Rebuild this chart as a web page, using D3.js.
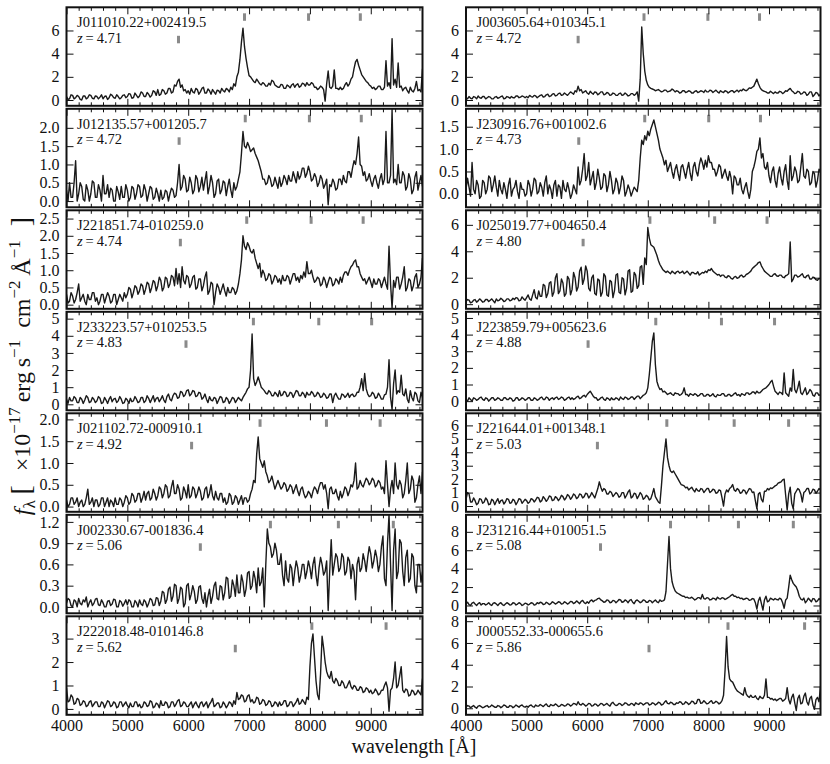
<!DOCTYPE html>
<html>
<head>
<meta charset="utf-8">
<script src="https://cdn.jsdelivr.net/npm/d3@7"></script>
<style>
body { margin: 0; background: #fff; }
text { font-family: "Liberation Serif", "Times New Roman", serif; fill: #111; }
</style>
</head>
<body>
<div id="chart"></div>
<script>

// quasar names / redshifts, left column top->bottom then right column
var names = ["J011010.22+002419.5", "J012135.57+001205.7", "J221851.74-010259.0", "J233223.57+010253.5",
             "J021102.72-000910.1", "J002330.67-001836.4", "J222018.48-010146.8",
             "J003605.64+010345.1", "J230916.76+001002.6", "J025019.77+004650.4", "J223859.79+005623.6",
             "J221644.01+001348.1", "J231216.44+010051.5", "J000552.33-000655.6"];
var redshifts = [4.71, 4.72, 4.74, 4.83, 4.92, 5.06, 5.62, 4.72, 4.73, 4.80, 4.88, 5.03, 5.08, 5.86];

// y limits and y ticks of each panel
var yLow  = [-0.5, -0.17, -0.12, -0.35, -0.12, -0.09, -0.25, -0.5, -0.3, -0.35, -0.55, -0.43, -0.85, -0.6];
var yHigh = [8.0, 2.52, 2.74, 5.4, 2.14, 1.3, 3.95, 8.0, 1.9, 7.1, 5.37, 6.9, 9.85, 8.45];
var yTicks = [[0,2,4,6], [0,0.5,1,1.5,2], [0,0.5,1,1.5,2,2.5], [0,1,2,3,4,5], [0,0.5,1,1.5,2],
              [0,0.3,0.6,0.9,1.2], [0,1,2,3],
              [0,2,4,6], [0,0.5,1,1.5], [0,2,4,6], [0,1,2,3,4,5], [0,1,2,3,4,5,6], [0,2,4,6,8], [0,2,4,6,8]];
var yDecimals = [0,1,1,0,1,1,0, 0,1,0,0,0,0,0];

// x ticks
var xMajor = [4000, 5000, 6000, 7000, 8000, 9000];
var xMinor = [4200,4400,4600,4800,5200,5400,5600,5800,6200,6400,6600,6800,7200,7400,7600,7800,
              8200,8400,8600,8800,9200,9400,9600,9800];

// rest wavelengths of the marked lines (first one drawn lower)
var restLines = [1025.7, 1215.7, 1400.0, 1549.0];

// spectra, one value every 25 A starting at 4000 A (one row = 500 A)
var waveStart = 4000, waveStep = 25;

var fluxJ0110 = [
 0.3,0.05,0.1,0.45,0.4,0.1,0.2,0.4,0.3,0.05,0.0,0.35,0.35,0.1,0.2,0.45,0.4,0.15,0.1,0.35,
 0.3,0.1,0.25,0.45,0.1,0.3,0.35,0.05,0.2,0.5,0.4,0.2,0.15,0.45,0.3,0.1,0.2,0.4,0.45,0.2,
 0.3,0.55,0.5,0.15,0.2,0.6,0.4,0.2,0.35,0.7,0.6,0.3,0.3,0.65,0.5,0.25,0.4,0.8,0.7,0.4,
 0.9,0.4,0.5,0.9,0.8,0.5,0.6,1.0,1.0,0.6,0.7,1.3,1.2,1.6,1.8,1.1,1.3,0.8,0.9,0.6,
 0.8,0.5,1.0,0.7,0.6,1.0,0.9,0.5,0.7,1.0,1.1,0.6,0.6,0.95,0.8,0.5,0.9,0.7,0.5,0.85,
 0.8,0.6,1.0,0.8,0.7,1.0,0.9,0.7,1.1,0.9,1.4,1.2,2.0,2.4,3.5,5.0,6.2,4.6,3.6,2.8,
 2.1,2.0,1.8,1.6,1.5,1.8,1.6,1.4,1.3,1.5,1.4,1.2,1.2,1.45,1.3,1.7,1.6,1.3,1.2,1.1,
 1.1,1.35,1.3,1.0,1.0,1.3,1.2,1.05,1.3,1.4,1.1,1.3,1.4,1.1,1.2,1.45,1.4,1.2,1.5,1.3,
 1.3,1.5,1.4,1.1,1.1,0.9,1.0,1.2,1.1,0.9,-0.1,1.4,2.5,1.1,1.0,1.2,2.6,1.0,1.0,0.9,
 1.1,0.9,1.0,1.3,1.5,1.2,1.4,1.8,2.0,2.7,3.3,3.5,3.0,2.6,2.2,2.0,1.8,1.6,1.5,1.3,
 1.2,1.0,1.1,0.9,1.0,1.2,1.2,0.9,0.9,1.1,3.4,1.2,1.5,1.0,5.3,1.3,1.8,1.1,3.2,1.1,
 1.2,0.8,1.0,1.1,0.8,0.6,1.1,0.8,0.7,1.0,1.6,0.8,0.9,0.7,2.7];

var fluxJ0121 = [
 0.3,0.0,0.5,0.1,0.1,0.5,1.1,0.0,0.2,0.5,0.4,0.05,0.0,0.45,0.3,0.0,0.2,0.55,0.5,0.1,
 0.1,0.45,0.3,0.0,0.7,0.2,0.2,0.45,0.1,0.35,0.3,0.0,0.0,0.4,0.25,0.05,0.4,0.1,0.1,0.45,
 0.3,0.0,0.1,0.4,0.35,0.05,0.2,0.45,0.4,0.1,0.15,0.45,0.3,0.0,0.2,0.4,0.35,0.05,0.1,0.35,
 0.2,0.0,0.3,0.05,0.1,0.3,0.25,0.0,0.2,0.35,0.3,0.1,0.15,0.5,1.0,0.3,0.4,0.7,0.6,0.25,
 0.3,0.65,0.5,0.2,0.3,0.7,0.6,0.25,0.4,0.65,0.3,0.55,0.8,0.2,0.4,0.7,0.5,0.1,0.2,0.55,
 0.6,0.2,0.3,0.55,0.5,0.15,0.4,0.6,0.3,0.1,0.5,0.3,0.4,0.6,0.8,1.3,1.9,1.5,1.45,1.6,
 1.5,1.35,1.4,1.45,1.3,1.2,1.1,0.95,0.8,0.6,0.6,0.45,0.5,0.7,0.6,0.4,0.45,0.65,0.5,0.35,
 0.65,0.4,0.5,0.7,0.6,0.45,0.7,0.55,0.55,0.8,0.65,0.5,0.8,0.6,0.7,0.9,0.9,0.65,0.75,0.95,
 0.8,0.55,0.6,0.75,0.65,0.4,0.5,0.7,0.6,0.35,0.45,0.6,-0.1,0.45,0.4,0.6,0.5,0.3,0.35,0.6,
 0.6,0.45,0.7,0.55,0.5,0.8,0.8,0.65,0.9,1.1,1.0,1.3,1.75,1.0,0.95,0.7,0.8,0.55,0.6,0.75,
 0.55,0.4,0.6,0.7,0.5,0.35,0.6,0.75,0.45,0.6,1.9,0.5,0.5,0.7,2.5,0.5,0.6,0.45,1.0,0.5,
 0.5,0.8,0.7,0.3,0.4,0.75,0.6,0.2,0.3,0.65,0.8,0.3,0.5,0.7,0.4];

var fluxJ2218 = [
 0.3,0.05,0.1,0.35,0.25,0.05,0.15,0.35,0.6,0.1,0.2,0.3,0.1,0.0,0.3,0.15,0.15,0.35,0.35,0.1,
 0.2,0.0,0.1,0.3,0.3,0.05,0.2,0.35,0.25,0.05,0.1,0.3,0.3,0.0,0.15,0.3,0.2,0.1,0.35,0.2,
 0.3,0.5,0.45,0.2,0.35,0.55,0.5,0.3,0.4,0.6,0.55,0.3,0.45,0.65,0.6,0.35,0.5,0.7,0.65,0.4,
 0.55,0.8,0.7,0.4,0.5,0.8,0.75,0.5,0.6,0.85,0.8,0.55,1.05,0.6,0.9,0.5,1.1,0.7,0.6,0.85,
 0.8,0.5,0.6,0.8,0.85,0.45,0.5,0.75,0.75,0.4,0.55,0.8,0.95,0.3,0.4,0.65,0.6,0.0,0.35,0.6,
 0.5,0.3,0.45,0.6,0.4,0.25,0.5,0.35,0.35,0.5,0.45,0.3,0.4,0.6,0.9,1.3,2.0,1.7,1.6,1.8,
 1.7,1.55,1.5,1.6,1.35,1.2,1.05,1.2,0.8,1.0,0.9,0.7,0.75,0.9,0.85,0.6,0.7,0.85,0.8,0.65,
 0.75,0.6,0.85,0.7,0.7,0.85,0.8,0.6,0.75,0.9,0.9,0.7,0.8,0.65,0.85,0.75,0.95,0.8,1.25,0.9,
 0.9,1.0,0.8,0.65,0.7,0.8,0.75,0.55,0.6,0.8,0.7,0.5,0.65,0.8,0.75,0.55,0.6,0.75,0.7,0.6,
 0.8,0.65,0.85,0.95,0.95,0.85,1.0,1.1,1.15,1.25,1.3,1.1,1.1,0.9,0.8,0.7,0.75,0.6,0.7,0.8,
 0.65,0.5,0.75,0.6,0.6,0.75,0.7,0.5,0.65,0.8,0.6,0.45,1.7,0.6,-0.1,0.7,0.5,0.8,0.8,0.45,
 0.6,0.8,1.1,0.4,0.5,0.75,0.7,0.4,0.55,0.8,0.9,0.5,0.6,0.8,1.35];

var fluxJ2332 = [
 0.3,0.05,0.4,0.2,0.2,0.45,0.35,0.1,0.1,0.4,0.3,0.05,0.25,0.5,0.4,0.1,0.15,0.4,0.3,0.1,
 0.2,0.45,0.35,0.05,0.1,0.4,0.25,0.05,0.3,0.45,0.15,0.3,0.35,0.1,0.2,0.45,0.3,0.05,0.1,0.35,
 0.25,0.05,0.35,0.15,0.2,0.45,0.3,0.1,0.15,0.4,0.4,0.1,0.2,0.5,0.35,0.1,0.3,0.5,0.15,0.35,
 0.4,0.15,0.3,0.5,0.25,0.1,0.45,0.6,0.3,0.2,0.5,0.65,0.6,0.35,0.4,0.75,0.7,0.45,0.55,0.8,
 0.85,0.5,0.6,0.8,0.75,0.45,0.5,0.7,0.65,0.3,0.4,0.6,0.3,0.1,0.45,0.25,0.2,0.4,0.35,0.05,
 0.25,0.45,0.4,0.1,0.15,0.4,0.3,0.05,0.2,0.4,0.35,0.1,0.25,0.4,0.3,0.2,0.4,0.55,0.7,0.9,
 1.0,2.0,4.1,1.5,1.1,1.3,1.6,1.3,1.0,0.9,0.8,0.65,0.6,0.8,0.7,0.5,0.5,0.7,0.6,0.45,
 0.8,0.5,0.55,0.75,0.7,0.45,0.5,0.7,0.65,0.4,0.6,0.8,0.75,0.5,0.5,0.7,0.6,0.4,0.7,0.55,
 0.55,0.75,0.65,0.45,0.5,0.7,0.6,0.4,0.45,0.65,0.55,0.35,0.4,0.6,0.6,0.1,0.5,0.65,0.45,0.3,
 0.3,0.6,0.55,0.4,0.5,0.65,0.4,0.55,0.6,0.45,0.5,0.7,0.7,1.0,1.5,0.8,1.8,0.9,0.6,0.45,
 0.5,0.7,0.6,0.35,0.4,0.65,0.5,0.3,0.3,0.55,0.6,1.0,2.6,0.4,-0.3,1.2,2.0,0.6,0.8,0.7,
 1.7,0.6,0.5,0.9,0.3,0.1,0.8,0.4,0.2,0.7,0.6,0.2,0.1,0.7,0.4];

var fluxJ0211 = [
 0.15,0.0,0.05,0.2,0.2,0.05,0.1,0.2,0.0,0.1,0.15,0.0,0.05,0.2,0.4,0.05,0.1,0.2,0.0,0.15,
 0.15,0.0,0.05,0.2,0.2,0.0,0.1,0.2,0.0,0.15,0.1,0.0,0.2,0.05,0.05,0.2,0.15,0.0,0.1,0.25,
 0.2,0.05,0.1,0.3,0.25,0.1,0.15,0.3,0.3,0.1,0.2,0.35,0.15,0.3,0.35,0.15,0.2,0.4,0.3,0.15,
 0.25,0.45,0.4,0.2,0.3,0.5,0.45,0.2,0.25,0.45,0.6,0.3,0.3,0.5,0.4,0.15,0.2,0.45,0.35,0.2,
 0.5,0.2,0.25,0.45,0.4,0.2,0.3,0.45,0.35,0.15,0.2,0.4,0.45,0.2,0.3,0.5,0.25,0.15,0.35,0.2,
 0.15,0.3,0.3,0.1,0.2,0.05,0.1,0.3,0.25,0.05,0.1,0.25,0.2,0.05,0.15,0.25,0.05,0.2,0.2,0.1,
 0.15,0.3,0.4,0.6,0.55,1.2,1.6,1.1,1.0,0.9,1.05,0.8,0.7,0.55,0.6,0.7,0.55,0.4,0.5,0.6,
 0.5,0.4,0.45,0.55,0.5,0.35,0.4,0.5,0.45,0.3,0.4,0.5,0.35,0.25,0.4,0.45,0.3,0.2,0.25,0.35,
 0.3,0.2,0.35,0.45,0.4,0.3,0.45,0.55,0.55,0.4,0.5,0.3,-0.05,0.4,0.45,0.3,0.3,0.4,0.25,0.15,
 0.35,0.2,0.3,0.45,0.4,0.25,0.35,0.5,0.45,0.6,1.0,0.4,0.45,0.6,0.5,0.45,0.55,0.65,0.6,0.5,
 0.55,0.65,0.6,0.45,0.5,0.6,0.55,0.4,0.45,0.3,1.05,0.5,0.0,0.4,0.6,0.3,1.0,0.5,0.4,0.6,
 0.5,0.2,0.3,0.6,1.0,0.3,0.4,0.7,0.6,0.1,0.2,0.5,0.7,0.3,0.8];

var fluxJ0023 = [
 0.05,0.12,0.1,0.02,0.0,0.1,0.08,0.0,0.12,0.05,0.03,0.1,0.07,0.14,0.0,0.06,0.1,0.02,0.05,0.11,
 0.12,0.03,0.02,0.1,0.06,0.0,0.0,0.08,0.09,0.02,0.04,0.11,0.1,0.0,0.0,0.09,0.07,0.01,0.05,0.1,
 0.03,0.1,0.08,0.0,0.0,0.09,0.06,0.0,0.1,0.04,0.02,0.1,0.07,0.0,0.05,0.12,0.1,0.02,0.03,0.13,
 0.12,0.02,0.08,0.22,0.2,0.05,0.1,0.25,0.28,0.08,0.15,0.32,0.3,0.05,0.12,0.28,0.25,0.0,0.05,0.3,
 0.33,0.1,0.18,0.3,0.22,0.05,0.1,0.28,0.3,0.12,0.05,0.2,0.0,0.15,0.25,0.05,0.15,0.3,0.35,0.12,
 0.1,0.3,0.28,0.1,0.2,0.42,0.4,0.12,0.15,0.38,0.3,0.15,0.45,0.2,0.2,0.45,0.35,0.15,0.25,0.48,
 0.5,0.25,0.3,0.5,0.4,0.2,0.55,0.3,0.35,0.55,0.0,0.6,1.1,0.9,0.85,0.7,0.75,0.9,0.8,0.6,
 0.6,0.75,0.45,0.3,0.65,0.4,0.35,0.6,0.55,0.3,0.5,0.65,0.55,0.35,0.45,0.6,0.6,0.4,0.5,0.65,
 0.55,0.4,0.6,0.7,0.45,0.3,0.55,0.7,0.6,0.45,0.5,0.65,-0.05,0.5,0.95,0.45,0.6,0.75,0.7,0.5,
 0.55,0.75,0.7,0.45,0.5,0.7,0.65,0.4,0.6,0.5,0.1,0.6,0.7,0.5,0.55,0.75,0.65,0.5,0.7,0.85,
 0.75,0.55,0.65,0.8,0.7,0.5,0.6,0.85,1.0,0.4,0.3,0.9,1.3,0.6,-0.05,0.8,1.1,0.4,0.5,0.95,
 0.9,0.5,0.3,0.7,0.8,0.35,0.4,0.75,0.7,0.3,0.2,0.6,0.6,0.35,0.5];

var fluxJ2220 = [
 0.9,0.3,0.35,0.6,0.5,0.2,0.25,0.45,0.4,0.15,0.2,0.35,0.3,0.1,0.15,0.3,0.35,0.1,0.2,0.3,
 0.3,0.1,0.1,0.3,0.25,0.05,0.2,0.35,0.3,0.1,0.15,0.3,0.25,0.05,0.1,0.3,0.3,0.1,0.2,0.3,
 0.15,0.05,0.25,0.1,0.1,0.3,0.3,0.1,0.2,0.05,0.1,0.3,0.25,0.1,0.15,0.35,0.3,0.05,0.1,0.25,
 0.2,0.05,0.35,0.15,0.15,0.3,0.25,0.05,0.1,0.3,0.3,0.1,0.2,0.35,0.4,0.1,0.15,0.3,0.25,0.1,
 0.1,0.2,0.3,0.05,0.2,0.3,0.15,0.05,0.25,0.3,0.1,0.2,0.3,0.05,0.2,0.3,0.45,0.1,0.15,0.25,
 0.25,0.05,0.1,0.3,0.2,0.05,0.15,0.3,0.25,0.1,0.35,0.2,0.7,0.4,0.45,0.6,0.55,0.3,0.35,0.55,
 0.6,0.3,0.4,0.25,0.3,0.5,0.45,0.2,0.25,0.4,0.35,0.15,0.2,0.35,0.3,0.1,0.15,0.3,0.25,0.1,
 0.3,0.15,0.2,0.35,0.35,0.1,0.15,0.3,0.3,0.1,0.2,0.3,0.45,0.2,0.25,0.4,0.3,0.2,0.5,0.4,
 1.8,2.8,3.2,2.2,1.2,0.6,0.4,1.5,3.1,2.6,2.0,1.6,1.4,1.3,1.6,1.2,1.1,1.3,1.2,1.0,
 1.0,1.2,1.1,0.9,0.9,1.05,1.2,0.95,0.85,1.0,0.95,0.8,0.8,0.95,0.9,0.7,0.75,0.9,0.85,0.7,
 0.8,0.65,0.7,0.85,0.75,0.6,0.65,0.8,0.8,1.0,1.15,0.9,-0.1,0.8,0.9,1.3,2.0,0.9,1.0,1.4,
 1.8,0.8,0.7,0.85,0.8,0.55,0.6,0.8,0.75,0.6,0.65,0.8,0.7,0.6,1.3];

var fluxJ0036 = [
 0.2,0.1,0.3,0.15,0.1,0.3,0.25,0.1,0.35,0.2,0.15,0.3,0.3,0.1,0.2,0.3,0.25,0.1,0.1,0.25,
 0.3,0.15,0.2,0.3,0.35,0.1,0.15,0.3,0.25,0.15,0.3,0.2,0.2,0.35,0.35,0.2,0.25,0.35,0.3,0.2,
 0.3,0.2,0.4,0.3,0.25,0.4,0.35,0.2,0.3,0.4,0.45,0.25,0.3,0.45,0.5,0.3,0.35,0.5,0.55,0.35,
 0.4,0.55,0.6,0.4,0.45,0.6,0.5,0.4,0.55,0.7,0.6,0.5,0.8,0.7,1.2,0.8,0.9,0.6,0.7,0.8,
 0.6,0.5,0.75,0.6,0.5,0.7,0.65,0.45,0.55,0.7,0.7,0.45,0.5,0.65,0.6,0.4,0.45,0.6,0.55,0.4,
 0.4,0.55,0.6,0.4,0.45,0.6,0.5,0.35,0.4,0.55,0.55,0.4,0.5,0.7,-0.1,1.8,6.3,4.0,2.5,1.7,
 1.3,1.1,1.0,0.95,0.9,0.8,0.85,0.9,0.8,0.7,0.75,0.85,0.85,0.7,0.75,0.8,0.95,0.85,0.7,0.8,
 0.75,0.6,0.65,0.8,0.8,0.65,0.7,0.8,0.75,0.6,0.6,0.75,0.8,0.65,0.7,0.8,0.75,0.65,0.85,0.7,
 0.7,0.85,0.8,0.65,0.75,0.85,0.7,0.6,0.8,0.7,0.65,0.8,0.75,0.6,0.7,0.8,0.8,0.65,0.75,0.85,
 0.7,0.85,0.8,0.95,0.85,0.8,0.9,1.05,1.0,1.1,1.2,1.5,1.8,1.4,1.1,0.9,0.8,0.75,0.7,0.6,
 0.6,0.75,0.65,0.55,0.7,0.6,0.6,0.75,0.7,0.55,0.65,0.8,0.75,0.9,1.0,0.8,0.7,0.55,0.6,0.75,
 0.7,0.5,0.55,0.7,0.65,0.4,0.5,0.7,0.7,0.3,0.45,0.65,0.6,0.35,0.5];

var fluxJ2309 = [
 0.1,0.35,0.15,-0.05,0.7,0.1,0.0,0.3,0.2,-0.1,-0.05,0.3,0.25,0.0,0.1,0.4,0.35,0.05,0.2,0.4,
 0.15,-0.05,0.3,0.1,0.0,0.25,0.1,-0.1,0.2,0.35,-0.05,0.1,0.15,0.3,0.05,-0.1,0.25,0.1,0.1,-0.05,
 0.0,0.3,0.2,-0.05,0.1,0.35,0.3,0.0,0.05,0.25,0.15,-0.05,0.25,0.4,0.0,0.2,0.1,-0.1,0.2,0.3,
 -0.05,0.2,0.15,-0.1,0.3,0.1,0.05,0.25,0.1,-0.1,0.0,0.2,0.1,0.0,0.6,0.2,0.3,0.55,0.9,0.3,
 0.4,0.7,0.2,0.35,0.5,0.1,0.25,0.55,0.35,0.1,0.15,0.45,0.4,0.05,0.2,0.5,0.3,0.0,0.1,0.35,
 0.25,0.0,0.15,0.4,0.3,-0.05,0.05,0.2,0.1,-0.05,0.05,0.15,0.1,0.05,0.3,0.8,1.2,1.1,1.3,1.2,
 1.4,1.3,1.45,1.55,1.65,1.5,1.35,1.2,1.0,0.9,0.8,0.65,0.75,0.5,0.6,0.7,0.5,0.35,0.55,0.65,
 0.45,0.3,0.6,0.65,0.5,0.35,0.55,0.7,0.45,0.3,0.6,0.7,0.5,0.4,0.65,0.8,0.7,0.55,0.75,0.6,
 0.85,0.7,0.7,0.55,0.55,0.4,0.5,0.65,0.6,0.35,0.45,0.55,0.4,0.3,0.5,0.35,0.0,0.4,0.35,0.2,
 0.2,0.35,0.1,0.0,0.15,0.25,0.05,-0.1,0.1,0.5,0.6,0.75,0.95,1.0,1.25,0.8,0.9,0.6,0.55,0.7,
 0.4,0.25,0.5,0.6,0.3,0.15,0.45,0.6,0.35,0.2,0.5,0.65,0.3,0.1,0.85,0.3,0.4,0.6,0.5,0.25,
 0.3,0.6,0.9,0.4,0.35,0.55,0.5,0.2,0.25,0.5,0.45,0.15,0.3,0.55,0.5];

var fluxJ0250 = [
 0.2,0.35,0.3,0.1,0.15,0.3,0.35,0.15,0.25,0.4,0.3,0.15,0.2,0.35,0.35,0.2,0.3,0.4,0.25,0.1,
 0.4,0.25,0.3,0.45,0.35,0.2,0.25,0.4,0.4,0.25,0.3,0.45,0.35,0.5,0.45,0.25,0.3,0.55,0.4,0.3,
 0.5,0.7,0.4,0.3,0.7,1.1,0.5,0.4,1.0,0.6,0.6,1.5,1.4,0.5,0.8,1.6,1.7,0.6,0.9,2.0,
 2.3,0.8,1.0,1.9,1.6,0.6,0.8,2.1,1.9,0.7,1.1,2.4,2.0,1.0,1.3,2.5,2.8,1.5,1.9,2.9,
 2.5,1.2,1.0,2.0,2.2,0.8,0.7,1.9,1.8,0.6,0.9,2.3,2.1,0.7,0.6,1.8,1.7,0.5,1.0,2.2,
 2.3,0.9,0.8,2.0,1.9,0.7,1.2,2.5,2.6,0.9,1.0,2.4,2.2,1.2,1.4,2.8,2.9,1.5,3.5,3.0,
 5.8,5.0,4.5,4.4,4.3,4.0,3.7,3.3,3.0,2.8,2.6,2.5,2.4,2.5,2.4,2.3,2.5,2.4,2.3,2.45,
 2.5,2.35,2.4,2.5,2.3,2.4,2.5,2.35,2.2,2.4,2.4,2.3,2.3,2.45,2.2,2.3,2.4,2.35,2.5,2.4,
 2.6,2.55,2.7,2.5,2.4,2.3,2.2,2.25,2.1,2.2,2.2,2.05,2.0,2.15,2.1,1.95,1.9,2.05,2.1,1.95,
 2.0,2.15,2.2,2.05,2.1,2.25,2.3,2.4,2.5,2.7,2.8,2.9,3.0,3.15,3.2,2.9,2.7,2.5,2.4,2.3,
 2.2,2.1,2.1,2.25,2.3,2.15,2.1,2.2,2.2,2.05,2.0,2.15,2.2,2.3,4.7,1.7,1.9,2.2,2.2,2.05,
 2.1,2.2,2.3,2.05,2.0,2.15,2.2,1.9,1.9,2.05,2.0,1.85,1.8,1.95,1.9];

var fluxJ2238 = [
 0.1,0.0,0.2,0.1,0.0,0.2,0.15,0.05,0.1,0.2,0.25,0.1,0.05,0.2,0.15,0.0,0.1,0.2,0.2,0.05,
 0.1,0.2,0.15,0.05,0.05,0.2,0.2,0.1,0.1,0.2,0.15,0.0,0.05,0.2,0.2,0.05,0.1,0.2,0.15,0.05,
 0.1,0.2,0.2,0.05,0.05,0.2,0.15,0.05,0.1,0.2,0.25,0.1,0.1,0.25,0.2,0.05,0.15,0.2,0.1,0.2,
 0.25,0.1,0.15,0.25,0.2,0.05,0.1,0.2,0.25,0.1,0.2,0.1,0.15,0.25,0.3,0.15,0.2,0.3,0.35,0.25,
 0.4,0.5,0.6,0.45,0.3,0.2,0.2,0.05,0.1,0.2,0.25,0.1,0.05,0.2,0.15,0.05,0.2,0.1,0.1,0.2,
 0.15,0.05,0.25,0.15,0.1,0.25,0.2,0.1,0.15,0.25,0.25,0.1,0.2,0.3,0.3,0.15,0.25,0.35,0.4,0.5,
 0.8,1.6,2.6,3.6,4.1,2.2,1.2,0.9,0.7,0.75,0.55,0.6,0.5,0.4,0.45,0.5,0.4,0.35,0.5,0.45,
 0.45,0.35,0.4,0.5,0.8,0.4,0.4,0.3,0.45,0.4,0.35,0.45,0.4,0.3,0.35,0.45,0.45,0.3,0.3,0.4,
 0.4,0.3,0.35,0.45,0.3,0.25,0.4,0.35,0.35,0.45,0.45,0.3,0.3,0.4,0.4,0.3,0.35,0.45,0.5,0.35,
 0.4,0.3,0.45,0.4,0.35,0.5,0.5,0.4,0.45,0.55,0.55,0.45,0.6,0.5,0.5,0.6,0.7,0.75,0.8,0.9,
 1.0,1.15,1.25,0.9,0.6,0.5,0.4,0.55,0.5,0.4,1.7,0.5,0.4,0.3,0.8,0.6,1.9,0.7,0.5,0.8,
 1.2,0.5,0.4,0.6,0.8,0.4,0.5,0.7,0.6,0.35,0.3,0.5,0.5,0.35,0.4];

var fluxJ2216 = [
 0.5,1.0,0.9,0.3,0.3,0.6,0.4,0.1,0.2,0.55,0.5,0.2,0.3,0.6,0.45,0.1,0.15,0.5,0.4,0.1,
 0.35,0.55,0.2,0.4,0.45,0.15,0.3,0.55,0.5,0.2,0.25,0.5,0.4,0.1,0.3,0.55,0.5,0.2,0.35,0.5,
 0.4,0.2,0.3,0.55,0.5,0.3,0.45,0.65,0.6,0.3,0.4,0.7,0.55,0.35,0.5,0.75,0.7,0.4,0.45,0.7,
 0.6,0.4,0.55,0.8,0.7,0.45,0.6,0.85,0.75,0.5,0.65,0.9,0.8,0.55,0.65,0.9,0.85,0.6,0.7,0.95,
 0.9,0.6,0.75,1.0,0.8,0.6,0.95,1.3,1.8,1.4,1.1,1.3,1.2,0.9,0.9,1.1,1.0,0.7,0.85,1.0,
 0.9,0.65,0.75,1.0,1.0,0.6,0.8,1.05,1.2,0.6,0.7,0.95,0.9,0.55,0.75,1.0,0.85,0.5,0.6,0.8,
 0.7,0.45,0.55,0.9,1.3,0.7,0.5,0.3,0.2,1.5,3.0,4.0,5.0,3.6,3.0,2.6,2.5,2.6,2.4,2.2,
 2.0,1.8,1.6,1.55,1.5,1.35,1.4,1.2,1.3,1.4,1.2,1.05,1.3,1.15,1.1,1.3,1.25,1.0,1.15,1.3,
 1.3,1.0,1.1,1.25,1.2,0.95,1.0,1.2,1.15,0.6,0.0,0.9,1.2,1.05,1.3,1.4,1.6,1.2,1.1,1.3,
 1.2,0.95,1.0,1.2,1.15,0.9,1.1,1.3,1.25,1.0,1.05,0.4,-0.2,0.9,1.0,0.5,0.3,1.1,1.1,1.3,
 1.2,1.35,1.3,1.4,1.5,1.55,1.7,1.75,1.8,1.95,2.0,0.8,-0.3,0.9,1.4,0.2,-0.2,0.9,1.1,1.3,
 1.2,0.9,0.3,1.0,1.1,1.3,1.3,0.9,1.0,1.25,1.2,0.95,1.1,1.3,1.2];

var fluxJ2312 = [
 0.2,0.35,0.1,0.0,0.25,0.35,0.15,0.0,0.2,0.3,0.05,0.2,0.2,0.05,0.15,0.3,0.1,0.0,0.25,0.3,
 0.15,0.0,0.2,0.3,0.1,0.0,0.15,0.3,0.2,0.05,0.1,0.3,0.25,0.05,0.15,0.3,0.2,0.0,0.1,0.25,
 0.2,0.05,0.15,0.3,0.25,0.05,0.1,0.3,0.2,0.35,0.3,0.1,0.15,0.35,0.25,0.1,0.2,0.4,0.3,0.15,
 0.25,0.4,0.35,0.15,0.2,0.4,0.3,0.15,0.25,0.45,0.4,0.2,0.3,0.5,0.35,0.2,0.45,0.55,0.3,0.2,
 0.4,0.25,0.5,0.6,0.4,0.55,0.6,0.75,0.8,0.6,0.5,0.35,0.4,0.6,0.55,0.3,0.35,0.55,0.5,0.3,
 0.45,0.65,0.6,0.35,0.4,0.6,0.5,0.3,0.55,0.65,0.35,0.2,0.5,0.6,0.45,0.3,0.4,0.6,0.55,0.35,
 0.35,0.55,0.5,0.3,0.45,0.6,0.4,0.3,0.6,0.45,0.5,0.6,1.5,4.5,7.5,4.0,2.6,2.0,1.6,1.4,
 1.3,1.2,1.1,1.0,1.0,0.85,0.9,0.8,0.8,0.9,0.75,0.6,0.7,0.85,0.85,0.7,1.2,0.75,0.7,0.85,
 0.8,0.6,0.65,0.8,0.75,0.6,0.9,0.75,0.7,0.85,0.8,0.65,0.75,0.85,0.95,1.1,1.2,1.0,1.0,0.85,
 0.9,0.75,0.8,0.65,0.7,0.8,0.75,0.55,0.6,0.75,0.7,0.3,-0.4,0.5,0.9,0.2,-0.5,0.6,1.0,0.4,
 0.5,0.8,0.7,0.6,0.75,0.65,0.6,0.8,0.7,0.3,-0.3,0.6,0.8,2.0,3.3,2.8,2.4,2.2,2.0,1.6,
 1.0,0.7,0.6,0.8,0.3,0.5,0.8,0.6,0.4,0.75,0.7,0.4,0.5,0.75,0.6];

var fluxJ0005 = [
 0.1,0.25,0.2,0.05,0.15,0.25,0.1,0.0,0.2,0.25,0.15,0.05,0.1,0.2,0.25,0.1,0.15,0.3,0.2,0.1,
 0.1,0.25,0.2,0.05,0.15,0.3,0.25,0.1,0.1,0.25,0.2,0.05,0.15,0.3,0.2,0.1,0.25,0.3,0.15,0.1,
 0.2,0.1,0.25,0.3,0.15,0.1,0.3,0.2,0.2,0.35,0.25,0.15,0.3,0.4,0.2,0.15,0.35,0.25,0.25,0.4,
 0.3,0.15,0.2,0.35,0.3,0.2,0.25,0.4,0.35,0.2,0.3,0.45,0.4,0.3,0.6,0.35,0.3,0.45,0.35,0.2,
 0.3,0.45,0.4,0.2,0.25,0.4,0.35,0.2,0.3,0.45,0.4,0.25,0.35,0.45,0.3,0.2,0.45,0.55,0.35,0.25,
 0.3,0.45,0.4,0.25,0.35,0.5,0.45,0.3,0.3,0.45,0.4,0.25,0.5,0.4,0.35,0.5,0.45,0.3,0.4,0.5,
 0.5,0.3,0.35,0.5,0.45,0.3,0.4,0.55,0.5,0.3,0.35,0.55,0.7,0.45,0.4,0.55,0.5,0.35,0.35,0.5,
 0.45,0.6,0.55,0.35,0.4,0.6,0.5,0.35,0.45,0.65,0.6,0.4,0.45,0.8,0.8,0.45,0.5,0.7,0.55,0.4,
 0.45,0.6,0.7,0.45,0.5,0.65,0.55,0.4,0.5,0.7,1.2,3.5,6.6,3.8,2.7,2.5,2.4,2.1,1.8,1.6,
 1.5,1.4,1.3,1.2,1.9,1.3,1.1,1.0,1.2,1.0,1.0,1.15,0.9,0.8,1.1,0.95,0.9,1.2,2.7,1.0,
 1.0,0.85,0.9,0.75,0.85,0.7,0.8,0.9,0.9,0.65,0.75,0.9,1.9,0.8,0.4,1.0,1.3,0.5,-0.2,0.9,
 1.2,0.4,0.5,1.1,1.4,0.6,0.3,0.9,1.1,0.3,-0.1,0.8,1.0,0.6,2.0];

var fluxes = [fluxJ0110, fluxJ0121, fluxJ2218, fluxJ2332, fluxJ0211, fluxJ0023, fluxJ2220,
              fluxJ0036, fluxJ2309, fluxJ0250, fluxJ2238, fluxJ2216, fluxJ2312, fluxJ0005];

var width = 830, height = 764;
var colLeft = [66.5, 466], colRight = [422.5, 820.5];
var rowTop = 7.3, rowStep = 101.5, panelH = 98.5;

var svg = d3.select("#chart").append("svg")
    .attr("width", width)
    .attr("height", height);

var defs = svg.append("defs");

names.forEach(function(name, i){
    var col = i < 7 ? 0 : 1;
    var row = i % 7;
    var top = rowTop + row * rowStep;
    var left = colLeft[col], right = colRight[col];

    var x = d3.scaleLinear().domain([4000, 9850]).range([left, right]);
    var y = d3.scaleLinear().domain([yLow[i], yHigh[i]]).range([top + panelH, top]);

    var g = svg.append("g").attr("class", "panel");

    defs.append("clipPath").attr("id", "clip" + i)
        .append("rect")
        .attr("x", left).attr("y", top)
        .attr("width", right - left).attr("height", panelH);

    // spectrum
    var line = d3.line()
        .x(function(d, k){ return x(waveStart + k * waveStep); })
        .y(function(d){ return y(d); });

    g.append("path")
        .datum(fluxes[i])
        .attr("clip-path", "url(#clip" + i + ")")
        .attr("d", line)
        .attr("fill", "none")
        .attr("stroke", "#1a1a1a")
        .attr("stroke-width", 1.4)
        .attr("stroke-linejoin", "round");

    // line markers
    var marks = restLines.map(function(r, k){ return {lam: r * (1 + redshifts[i]), low: k == 0}; })
        .filter(function(d){ return d.lam < 9850; });

    g.selectAll(".marker")
        .data(marks)
        .join("rect")
        .attr("class", "marker")
        .attr("x", function(d){ return x(d.lam) - 2.5; })
        .attr("y", function(d){ return top + (d.low ? 28.5 : 6); })
        .attr("width", 3)
        .attr("height", 7.5)
        .attr("fill", "#8a8a8a");

    // x ticks, inward on both sides
    var isBottom = row == 6;
    g.append("g")
        .attr("transform", "translate(0," + (top + panelH) + ")")
        .call(d3.axisBottom(x).tickValues(xMajor).tickSize(-7).tickPadding(5)
            .tickFormat(isBottom ? d3.format("d") : function(){ return ""; }))
        .call(function(a){ a.select(".domain").remove(); })
        .selectAll("text").style("font-size", "16px").style("font-family", "Liberation Serif");
    g.append("g")
        .attr("transform", "translate(0," + (top + panelH) + ")")
        .call(d3.axisBottom(x).tickValues(xMinor).tickSize(-3.5).tickFormat(""))
        .call(function(a){ a.select(".domain").remove(); });
    g.append("g")
        .attr("transform", "translate(0," + top + ")")
        .call(d3.axisTop(x).tickValues(xMajor).tickSize(-7).tickFormat(""))
        .call(function(a){ a.select(".domain").remove(); });
    g.append("g")
        .attr("transform", "translate(0," + top + ")")
        .call(d3.axisTop(x).tickValues(xMinor).tickSize(-3.5).tickFormat(""))
        .call(function(a){ a.select(".domain").remove(); });

    // y ticks
    g.append("g")
        .attr("transform", "translate(" + left + ",0)")
        .call(d3.axisLeft(y).tickValues(yTicks[i]).tickSize(-7).tickPadding(7)
            .tickFormat(d3.format(yDecimals[i] ? ".1f" : "d")))
        .call(function(a){ a.select(".domain").remove(); })
        .selectAll("text").style("font-size", "16px").style("font-family", "Liberation Serif");
    g.append("g")
        .attr("transform", "translate(" + right + ",0)")
        .call(d3.axisRight(y).tickValues(yTicks[i]).tickSize(-7).tickFormat(""))
        .call(function(a){ a.select(".domain").remove(); });

    g.selectAll(".tick line").attr("stroke", "#111");

    // frame
    g.append("rect")
        .attr("x", left).attr("y", top)
        .attr("width", right - left).attr("height", panelH)
        .attr("fill", "none")
        .attr("stroke", "#111")
        .attr("stroke-width", 2);

    // labels
    g.append("text")
        .attr("x", left + 10.5).attr("y", top + 20)
        .style("font-size", "14.5px")
        .text(name);
    var zt = g.append("text")
        .attr("x", left + 10.5).attr("y", top + 35.5)
        .style("font-size", "14.5px");
    zt.append("tspan").style("font-style", "italic").text("z");
    zt.append("tspan").text("\u2009=\u2009" + redshifts[i].toFixed(2));
});

// axis titles
svg.append("text")
    .attr("x", 414).attr("y", 753)
    .attr("text-anchor", "middle")
    .style("font-size", "20px")
    .text("wavelength [\u00c5]");

var yl = svg.append("text")
    .attr("transform", "translate(30,366) rotate(-90)")
    .attr("text-anchor", "middle")
    .style("font-size", "24px");
yl.append("tspan").style("font-style", "italic").text("f");
yl.append("tspan").attr("dy", 5).style("font-size", "17px").text("\u03bb");
yl.append("tspan").attr("dy", -5).style("font-size", "28px").text("\u2009[\u2002");
yl.append("tspan").text("\u00d710");
yl.append("tspan").attr("dy", -10).style("font-size", "17px").text("\u221217");
yl.append("tspan").attr("dy", 10).text("\u2009erg\u2009s");
yl.append("tspan").attr("dy", -10).style("font-size", "17px").text("\u22121");
yl.append("tspan").attr("dy", 10).text("\u2002cm");
yl.append("tspan").attr("dy", -10).style("font-size", "17px").text("\u22122");
yl.append("tspan").attr("dy", 10).text("\u2009\u00c5");
yl.append("tspan").attr("dy", -10).style("font-size", "17px").text("\u22121");
yl.append("tspan").attr("dy", 10).style("font-size", "28px").text("\u2002]");

</script>
</body>
</html>
